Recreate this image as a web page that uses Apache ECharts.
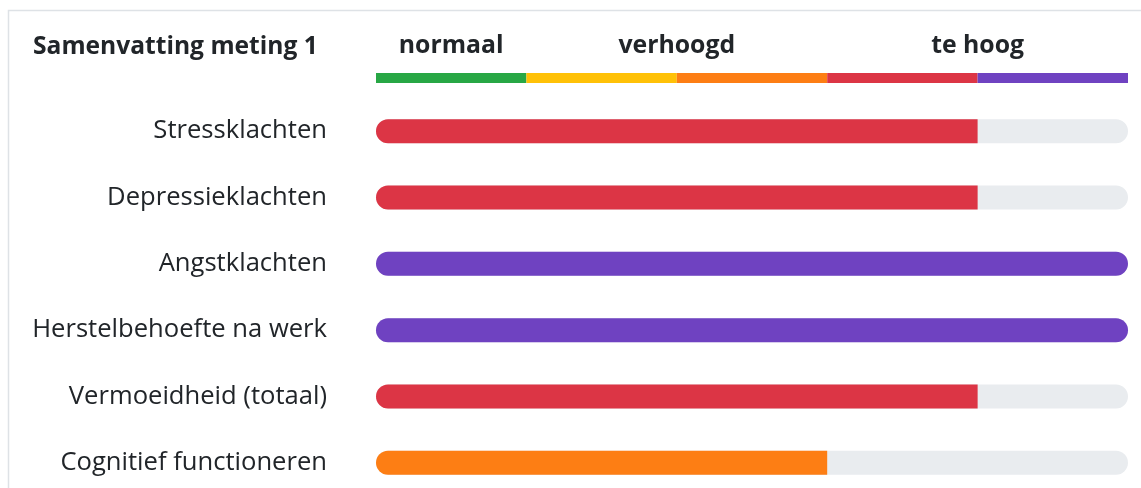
<!DOCTYPE html>
<html><head><meta charset="utf-8">
<script src="https://cdn.jsdelivr.net/npm/echarts@6/dist/echarts.min.js"></script>
<style>html,body{margin:0;padding:0;background:#fff;overflow:hidden}#c{width:1141px;height:560px}</style>
</head><body><div id="c"></div>
<script>
const title = 'Samenvatting meting 1';
const categories = ['Stressklachten','Depressieklachten','Angstklachten','Herstelbehoefte na werk','Vermoeidheid (totaal)','Cognitief functioneren'];
const values = [4, 4, 5, 5, 4, 3];
const maxValue = 5;
const levelColors = ['#28a745','#ffc107','#fd7e14','#dc3545','#6f42c1'];
const headerLabels = {0.5: 'normaal', 2: 'verhoogd', 4: 'te hoog'};

const font = '"Open Sans", "Noto Sans", sans-serif';
const chart = echarts.init(document.getElementById('c'), null, {renderer: 'canvas'});
const R = 12;

const legendSeries = levelColors.map((c, i) => ({
  type: 'bar', xAxisIndex: 1, yAxisIndex: 1, stack: 'scale', barWidth: 10,
  data: [1], itemStyle: {color: c}, silent: true
}));

chart.setOption({
  animation: false,
  title: {text: title, left: 28, top: 29, textStyle: {fontFamily: font, fontSize: 24.6, fontWeight: 'bold', color: '#212529'}},
  graphic: [{type: 'rect', shape: {x: 8.5, y: 10.5, width: 1300, height: 700}, style: {fill: 'none', stroke: '#dee2e6', lineWidth: 1.5}, z: -10}],
  grid: [
    {left: 376, right: 13, top: 98, height: 398, containLabel: false},
    {left: 376, right: 13, top: 73, height: 10, containLabel: false}
  ],
  xAxis: [
    {type: 'value', gridIndex: 0, min: 0, max: maxValue, show: false},
    {type: 'value', gridIndex: 1, min: 0, max: maxValue, interval: 0.5, position: 'top',
     axisLine: {show: false}, axisTick: {show: false}, splitLine: {show: false},
     axisLabel: {show: true, margin: 15, fontFamily: font, fontSize: 24.8, fontWeight: 'bold', color: '#212529',
       formatter: v => headerLabels[v] || ''}}
  ],
  yAxis: [
    {type: 'category', gridIndex: 0, data: categories, inverse: true,
     axisLine: {show: false}, axisTick: {show: false}, splitLine: {show: false},
     axisLabel: {margin: 49, fontFamily: font, fontSize: 25.6, color: '#212529'}},
    {type: 'category', gridIndex: 1, data: [''], show: false}
  ],
  series: [
    {type: 'bar', xAxisIndex: 0, yAxisIndex: 0, barWidth: 24,
     showBackground: true, backgroundStyle: {color: '#e9ecef', borderRadius: R},
     data: values.map(v => ({value: v, itemStyle: {color: levelColors[v - 1],
       borderRadius: v >= maxValue ? R : [R, 0, 0, R]}}))}
  ].concat(legendSeries)
});
</script></body></html>
